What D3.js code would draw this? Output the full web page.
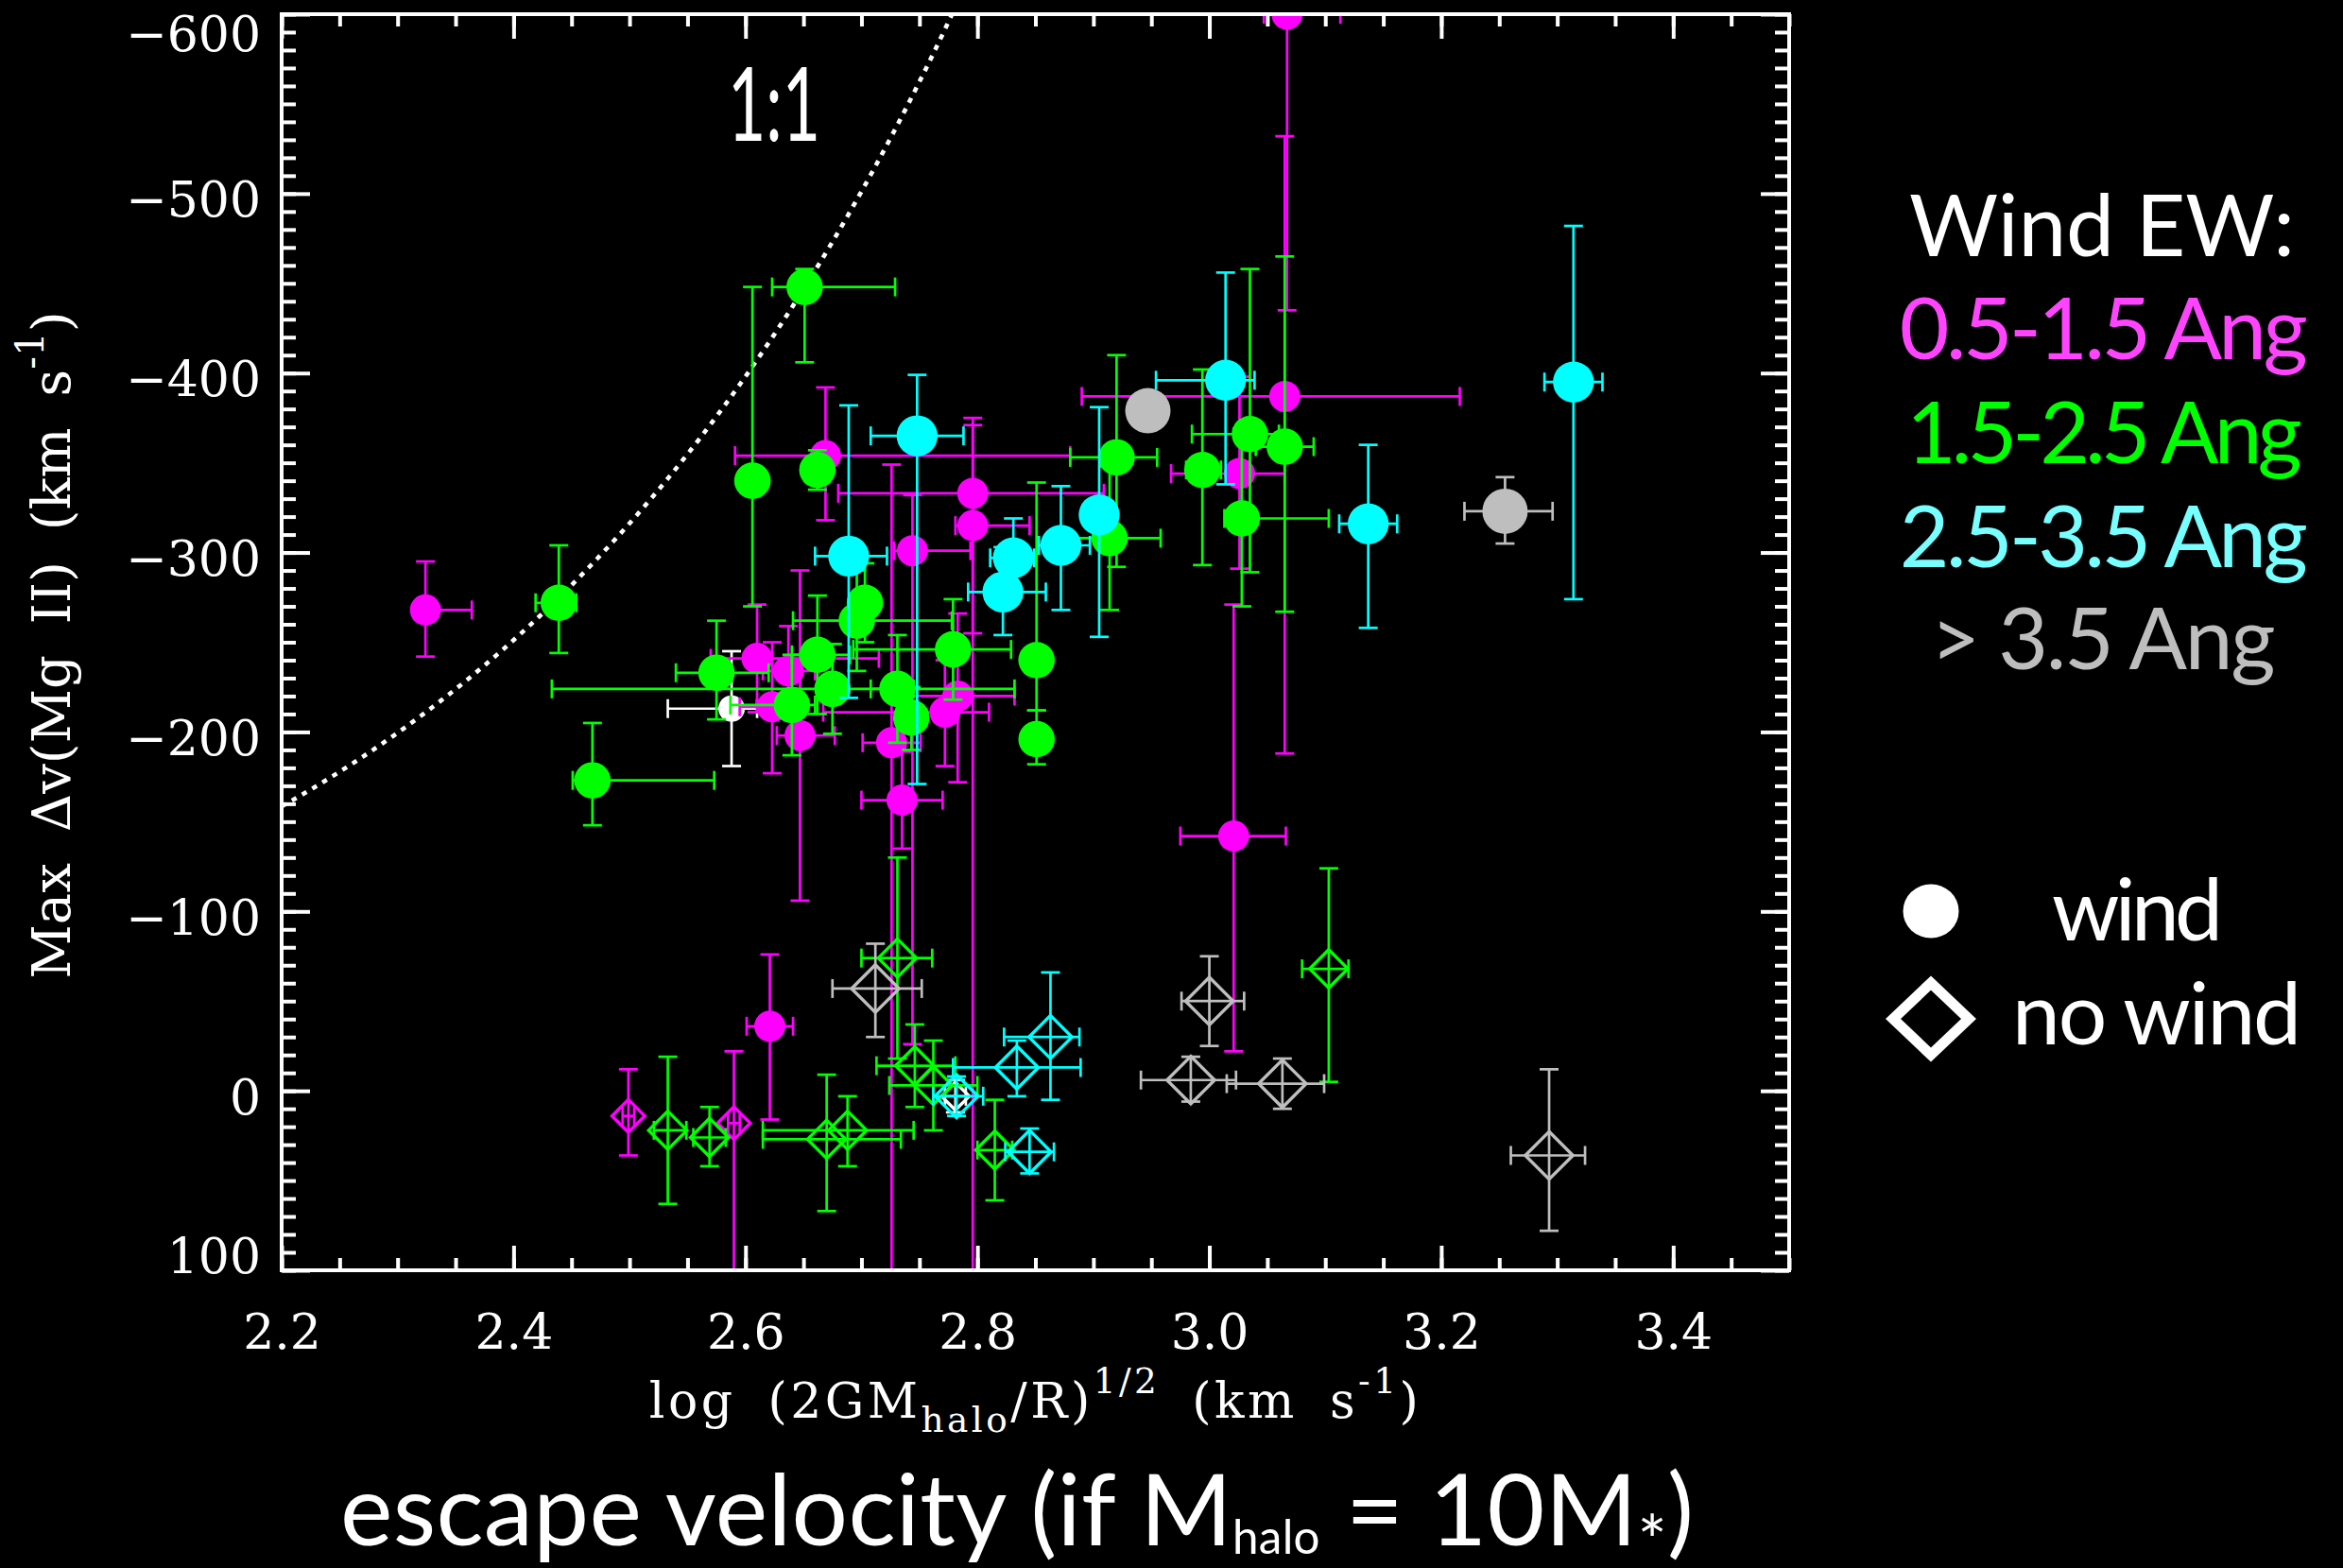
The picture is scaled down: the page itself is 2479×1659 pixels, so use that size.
<!DOCTYPE html>
<html>
<head>
<meta charset="utf-8">
<script src="https://cdn.jsdelivr.net/npm/d3@7"></script>
<style>
  html, body { margin: 0; padding: 0; background: #000; }
  svg { display: block; }
</style>
</head>
<body>
<script>
// Maximum Mg II outflow velocity against halo escape velocity,
// grouped by wind equivalent width (filled = wind detected, open diamond = no wind).

// Row layout: [log v_esc, max dv, log v_esc low, log v_esc high, dv low end, dv high end]
const windWhite = [
  [2.588, -213, 2.533, 2.610, -245, -181]
];
const noWindWhite = [
  [2.781, 3, 2.772, 2.790, -6, 12]
];

const windMagenta = [
  [2.324, -268, 2.318, 2.364, -295, -242],
  [2.669, -354, 2.591, 2.880, -392, -318],
  [2.796, -333, 2.680, 2.909, -375, 130],
  [2.796, -315, 2.781, 2.845, -371, -255],
  [2.744, -301, 2.728, 2.794, -332, -26],
  [2.726, -194, 2.701, 2.751, -349, 130],
  [2.735, -162, 2.700, 2.770, -189, -135],
  [2.610, -241, 2.570, 2.715, -271, -211],
  [2.623, -214, 2.595, 2.650, -250, -177],
  [2.637, -234, 2.615, 2.660, -259, -208],
  [2.647, -198, 2.627, 2.677, -290, -106],
  [2.772, -211, 2.667, 2.810, -240, -181],
  [2.783, -220, 2.734, 2.832, -266, -172],
  [3.065, -387, 2.890, 3.216, -532, -188],
  [3.067, -600, 3.047, 3.113, -765, -435],
  [3.026, -344, 2.967, 3.065, -398, -291],
  [3.021, -142, 2.975, 3.066, -271, -22],
  [2.621, -36, 2.601, 2.641, -76, 16]
];
const noWindMagenta = [
  [2.499, 14, 2.494, 2.504, -12, 36],
  [2.590, 18, 2.585, 2.595, -22, 100]
];

const windGreen = [
  [2.651, -448, 2.623, 2.729, -458, -406],
  [2.606, -340, 2.601, 2.611, -448, -270],
  [2.662, -346, 2.657, 2.667, -357, -335],
  [2.439, -272, 2.419, 2.454, -304, -244],
  [2.468, -173, 2.451, 2.573, -205, -148],
  [2.575, -233, 2.540, 2.620, -262, -207],
  [2.662, -243, 2.640, 2.690, -276, -210],
  [2.675, -224, 2.433, 2.745, -249, -199],
  [2.640, -215, 2.587, 2.660, -243, -187],
  [2.703, -272, 2.690, 2.715, -294, -250],
  [2.696, -262, 2.641, 2.778, -290, -234],
  [2.731, -224, 2.708, 2.832, -254, -194],
  [2.743, -208, 2.730, 2.756, -225, -190],
  [2.779, -246, 2.693, 2.829, -274, -218],
  [2.851, -240, 2.846, 2.856, -339, -212],
  [2.851, -196, 2.846, 2.856, -212, -182],
  [2.920, -353, 2.880, 2.955, -410, -292],
  [2.914, -308, 2.870, 2.958, -348, -268],
  [2.994, -346, 2.980, 3.010, -402, -293],
  [3.035, -366, 2.985, 3.060, -458, -289],
  [3.065, -359, 3.040, 3.090, -465, -267],
  [3.028, -319, 3.013, 3.103, -369, -270]
];
const noWindGreen = [
  [2.533, 22, 2.521, 2.549, -19, 63],
  [2.569, 26, 2.555, 2.583, 9, 42],
  [2.670, 27, 2.615, 2.734, -9, 67],
  [2.688, 22, 2.615, 2.745, 3, 42],
  [2.731, -74, 2.700, 2.761, -130, -18],
  [2.746, -14, 2.713, 2.781, -37, 9],
  [2.762, -3, 2.724, 2.800, -28, 22],
  [2.815, 33, 2.800, 2.830, 5, 61],
  [3.103, -68, 3.080, 3.120, -124, -5]
];

const windCyan = [
  [3.014, -396, 2.954, 3.039, -456, -338],
  [3.137, -316, 3.112, 3.162, -360, -258],
  [3.314, -395, 3.289, 3.339, -482, -274],
  [2.748, -365, 2.708, 2.788, -399, -171],
  [2.689, -298, 2.660, 2.722, -382, -219],
  [2.831, -297, 2.811, 2.849, -319, -275],
  [2.822, -278, 2.792, 2.859, -303, -254],
  [2.872, -304, 2.853, 2.897, -337, -268],
  [2.905, -321, 2.895, 2.915, -381, -253]
];
const noWindCyan = [
  [2.863, -30, 2.823, 2.888, -66, 5],
  [2.834, -13, 2.779, 2.889, -28, 3],
  [2.782, 3, 2.762, 2.805, -8, 14],
  [2.845, 34, 2.824, 2.866, 21, 46]
];

const windGray = [
  [2.947, -379, 2.940, 2.954, -383, -374],
  [3.255, -323, 3.220, 3.296, -342, -305]
];
const noWindGray = [
  [2.712, -57, 2.675, 2.752, -82, -30],
  [3.000, -50, 2.976, 3.030, -75, -25],
  [2.984, -6, 2.941, 3.023, -19, 6],
  [3.063, -4, 3.015, 3.099, -18, 10],
  [3.293, 36, 3.260, 3.324, -12, 78]
];

const ewBins = ["0.5-1.5 Ang", "1.5-2.5 Ang", "2.5-3.5 Ang", "> 3.5 Ang"];
const xTickLabels = ["2.2", "2.4", "2.6", "2.8", "3.0", "3.2", "3.4"];
const yTickLabels = ["\u2212600", "\u2212500", "\u2212400", "\u2212300", "\u2212200", "\u2212100", "0", "100"];

// ---------------------------------------------------------------- layout
const W = 2479, H = 1659;
const PL = 298, PR = 1893, PT = 15, PB = 1344;
const serif = "'DejaVu Serif', serif";
const sans = "Lato, 'Open Sans', sans-serif";

const svg = d3.select("body").append("svg")
  .attr("width", W).attr("height", H)
  .style("background", "#000");

const x = d3.scaleLinear().domain([2.2, 3.5]).range([PL, PR]);
const y = d3.scaleLinear().domain([-600, 100]).range([PT, PB]);

svg.append("defs").append("clipPath").attr("id", "plotClip")
  .append("rect").attr("x", PL).attr("y", PT).attr("width", PR - PL).attr("height", PB - PT);

// ---------------------------------------------------------------- helpers
function richText(parent, parts, size) {
  // parts: [string, scale, shift(em of base size, + is down)]
  const t = parent.append("text").attr("font-size", size);
  let cur = 0;
  parts.forEach(([s, scale, shift]) => {
    const target = shift * size;
    t.append("tspan")
      .attr("dy", target - cur)
      .attr("font-size", scale * size)
      .text(s);
    cur = target;
  });
  return t;
}
function fitLetters(sel, target) {
  const node = sel.node();
  const w = node.getComputedTextLength();
  const n = node.textContent.length;
  sel.attr("letter-spacing", (target - w) / Math.max(1, n - 1));
}
function fitWords(sel, target) {
  const node = sel.node();
  const w = node.getComputedTextLength();
  const spaces = (node.textContent.match(/ /g) || []).length;
  if (spaces > 0) sel.attr("word-spacing", (target - w) / spaces);
}

// ---------------------------------------------------------------- 1:1 relation (outflow speed = escape speed)
const plot = svg.append("g").attr("clip-path", "url(#plotClip)");
const oneToOneX = d3.range(2.2, 2.79, 0.002);
plot.append("path")
  .datum(oneToOneX)
  .attr("d", d3.line().x(v => x(v)).y(v => y(-Math.pow(10, v))))
  .attr("fill", "none")
  .attr("stroke", "#fff")
  .attr("stroke-width", 4.6)
  .attr("stroke-dasharray", "5.5,7");

// ---------------------------------------------------------------- data
const CAP = 10;
function drawErrors(g, rows, color) {
  const eg = g.append("g").attr("stroke", color).attr("stroke-width", 2.7).attr("fill", "none");
  rows.forEach(([xv, yv, x0, x1, y0, y1]) => {
    const cx = x(xv), cy = y(yv);
    eg.append("line").attr("x1", cx).attr("x2", cx).attr("y1", y(y0)).attr("y2", y(y1));
    eg.append("line").attr("x1", cx - CAP).attr("x2", cx + CAP).attr("y1", y(y0)).attr("y2", y(y0));
    eg.append("line").attr("x1", cx - CAP).attr("x2", cx + CAP).attr("y1", y(y1)).attr("y2", y(y1));
    eg.append("line").attr("x1", x(x0)).attr("x2", x(x1)).attr("y1", cy).attr("y2", cy);
    eg.append("line").attr("x1", x(x0)).attr("x2", x(x0)).attr("y1", cy - CAP).attr("y2", cy + CAP);
    eg.append("line").attr("x1", x(x1)).attr("x2", x(x1)).attr("y1", cy - CAP).attr("y2", cy + CAP);
  });
}
function diamondPath(cx, cy, r) {
  return `M${cx},${cy - r}L${cx + r},${cy}L${cx},${cy + r}L${cx - r},${cy}Z`;
}

const series = [
  { color: "#ffffff", r: 14,   wind: windWhite,   noWind: noWindWhite },
  { color: "#ff00ff", r: 16.5, wind: windMagenta, noWind: noWindMagenta },
  { color: "#00ff00", r: 19.3, wind: windGreen,   noWind: noWindGreen },
  { color: "#00ffff", r: 21.7, wind: windCyan,    noWind: noWindCyan },
  { color: "#bebebe", r: 24,   wind: windGray,    noWind: noWindGray }
];

series.forEach(s => {
  const g = plot.append("g");
  drawErrors(g, s.noWind, s.color);
  g.append("g").selectAll("path").data(s.noWind).join("path")
    .attr("d", d => diamondPath(x(d[0]), y(d[1]), s.r * 1.05))
    .attr("fill", "none").attr("stroke", s.color).attr("stroke-width", 3.4);
  drawErrors(g, s.wind, s.color);
  g.append("g").selectAll("circle").data(s.wind).join("circle")
    .attr("cx", d => x(d[0])).attr("cy", d => y(d[1])).attr("r", s.r)
    .attr("fill", s.color);
});

// ---------------------------------------------------------------- axes
const xMajor = xTickLabels.map(Number);
const xMinor = d3.range(0, 27).map(i => +(2.2 + i * 0.05).toFixed(2));
const yMajor = d3.range(-600, 101, 100);
const yMinor = d3.range(-600, 101, 10);

function styleAxis(g) {
  g.select(".domain").remove();
  g.selectAll(".tick line").attr("stroke", "#fff").attr("stroke-width", 4);
  g.selectAll(".tick text").attr("fill", "#fff").attr("font-family", serif).attr("font-size", 52);
}

svg.append("g").attr("transform", `translate(0,${PB})`)
  .call(d3.axisBottom(x).tickValues(xMinor).tickSize(-13).tickFormat(""))
  .call(styleAxis);
svg.append("g").attr("transform", `translate(0,${PB})`)
  .call(d3.axisBottom(x).tickValues(xMajor).tickSize(-26).tickPadding(46)
    .tickFormat((d, i) => xTickLabels[i]))
  .call(styleAxis);
svg.append("g").attr("transform", `translate(0,${PT})`)
  .call(d3.axisTop(x).tickValues(xMinor).tickSize(-13).tickFormat(""))
  .call(styleAxis);
svg.append("g").attr("transform", `translate(0,${PT})`)
  .call(d3.axisTop(x).tickValues(xMajor).tickSize(-26).tickFormat(""))
  .call(styleAxis);

svg.append("g").attr("transform", `translate(${PL},0)`)
  .call(d3.axisLeft(y).tickValues(yMinor).tickSize(-15).tickFormat(""))
  .call(styleAxis);
const yAxisG = svg.append("g").attr("transform", `translate(${PL},0)`)
  .call(d3.axisLeft(y).tickValues(yMajor).tickSize(-30).tickPadding(22)
    .tickFormat((d, i) => yTickLabels[i]))
  .call(styleAxis);
yAxisG.selectAll(".tick text")
  .attr("dy", "0.3645em")
  .attr("y", d => Math.min(Math.max(y(d) + 5, 35), 1328) - y(d));
svg.append("g").attr("transform", `translate(${PR},0)`)
  .call(d3.axisRight(y).tickValues(yMinor).tickSize(-15).tickFormat(""))
  .call(styleAxis);
svg.append("g").attr("transform", `translate(${PR},0)`)
  .call(d3.axisRight(y).tickValues(yMajor).tickSize(-30).tickFormat(""))
  .call(styleAxis);

svg.append("rect")
  .attr("x", PL).attr("y", PT).attr("width", PR - PL).attr("height", PB - PT)
  .attr("fill", "none").attr("stroke", "#fff").attr("stroke-width", 4);

// ---------------------------------------------------------------- axis titles
const xTitle = richText(svg, [
  ["log (2GM", 1, 0],
  ["halo", 0.72, 0.29],
  ["/R)", 1, 0],
  ["1/2", 0.72, -0.5],
  [" (km s", 1, 0],
  ["-1", 0.72, -0.5],
  [")", 1, 0]
], 52)
  .attr("x", (PL + PR) / 2).attr("y", 1500)
  .attr("text-anchor", "middle").attr("fill", "#fff").attr("font-family", serif)
  .attr("word-spacing", 14);
fitLetters(xTitle, 814);

const yTitle = richText(svg, [
  ["Max \u0394v(Mg II) (km s", 1, 0],
  ["-1", 0.72, -0.5],
  [")", 1, 0]
], 56)
  .attr("transform", `translate(74,${(PT + PB) / 2 + 3}) rotate(-90)`)
  .attr("text-anchor", "middle").attr("fill", "#fff").attr("font-family", serif);
fitWords(yTitle, 706);

const bigTitle = richText(svg, [
  ["escape velocity (if M", 1, 0],
  ["halo", 0.47, 0.09],
  [" = 10M", 1, 0],
  ["*", 0.7, 0.21],
  [")", 1, 0]
], 105)
  .attr("x", 360).attr("y", 1635)
  .attr("fill", "#fff").attr("font-family", sans);
fitLetters(bigTitle, 1432);

// "1:1" tag beside the dotted relation
svg.append("text")
  .attr("x", 770).attr("y", 149)
  .attr("font-family", sans).attr("font-size", 108).attr("fill", "#fff")
  .attr("textLength", 98).attr("lengthAdjust", "spacingAndGlyphs")
  .text("1:1");

// ---------------------------------------------------------------- legend
const legendColors = ["#ff44ff", "#00ff00", "#77ffff", "#bebebe"];
const legendWidths = [432, 419, 432, 365];
const legendBaselines = [380, 490, 600, 708];
const LX = 2224;

const head = svg.append("text")
  .attr("x", LX).attr("y", 271).attr("text-anchor", "middle")
  .attr("font-family", sans).attr("font-size", 91).attr("fill", "#fff")
  .text("Wind EW:");
fitLetters(head, 408);

ewBins.forEach((label, i) => {
  const t = svg.append("text")
    .attr("x", LX).attr("y", legendBaselines[i]).attr("text-anchor", "middle")
    .attr("font-family", sans).attr("font-size", 91).attr("fill", legendColors[i])
    .text(label);
  fitLetters(t, legendWidths[i]);
});

svg.append("ellipse")
  .attr("cx", 2043).attr("cy", 964).attr("rx", 29.5).attr("ry", 28.5)
  .attr("fill", "#fff");
const windLabel = svg.append("text")
  .attr("x", 2171).attr("y", 995)
  .attr("font-family", sans).attr("font-size", 91).attr("fill", "#fff")
  .text("wind");
fitLetters(windLabel, 181);

svg.append("path")
  .attr("d", "M2043,1040L2083,1078L2043,1116L2003,1078Z")
  .attr("fill", "none").attr("stroke", "#fff").attr("stroke-width", 11)
  .attr("stroke-linejoin", "miter");
const noWindLabel = svg.append("text")
  .attr("x", 2129).attr("y", 1105)
  .attr("font-family", sans).attr("font-size", 91).attr("fill", "#fff")
  .text("no wind");
fitLetters(noWindLabel, 306);
</script>
</body>
</html>
